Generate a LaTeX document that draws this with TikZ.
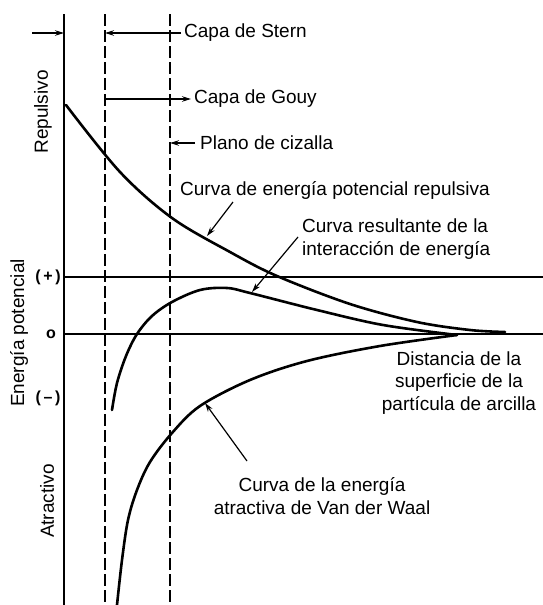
\documentclass[tikz,border=0pt]{standalone}
\usepackage{fontspec}
\setmainfont{Liberation Sans}
\usetikzlibrary{arrows.meta}

\begin{document}
\begin{tikzpicture}[x=1pt,y=-1pt,
  lbl/.style={font=\fontsize{19}{22.5}\selectfont,inner sep=0pt,align=center},
  sgn/.style={font=\fontsize{16}{18}\selectfont\bfseries,inner sep=0pt},
  curve/.style={line width=2.6pt,line cap=round,line join=round},
  axe/.style={line width=1.3pt},
  guide/.style={line width=1.3pt,dash pattern=on 12pt off 4pt},
  pointer/.style={line width=1.2pt,-{Stealth[length=9pt,width=5.5pt]}}]
		\useasboundingbox (0,0) rectangle (543,605);
		%
		\coordinate (axtop) at (64,14);
		\coordinate (axbot) at (64,605);
		\coordinate (gtop) at (105,14);
		\coordinate (gbot) at (105,605);
		\coordinate (ctop) at (170,14);
		\coordinate (cbot) at (170,605);
		\coordinate (plusL) at (64,277);
		\coordinate (plusR) at (543,277);
		\coordinate (zeroL) at (64,334);
		\coordinate (zeroR) at (543,334);
		%
		\draw[axe] (axtop) -- (axbot);
		\draw[guide] (gtop) -- (gbot);
		\draw[guide] (ctop) -- (cbot);
		\draw[axe] (plusL) -- (plusR);
		\draw[axe] (zeroL) -- (zeroR);
		%
		\node[lbl,rotate=90] (epot) at (19,333) {Energía potencial};
		\node[lbl,rotate=90] (repulsivo) at (43,112) {Repulsivo};
		\node[lbl,rotate=90] (atractivo) at (47,501) {Atractivo};
		\node[sgn] (pos) at (48,277) {(\,+\,)};
		\node[sgn] (cero) at (51,334) {o};
		\node[sgn] (neg) at (48,398) {(\,--\,)};
		%
		\node[lbl,anchor=west] (stern) at (184,33) {Capa de Stern};
		\node[lbl,anchor=west] (gouy) at (194,99) {Capa de Gouy};
		\node[lbl,anchor=west] (cizalla) at (200,143) {Plano de cizalla};
		\node[lbl,anchor=west] (crep) at (180,190) {Curva de energía potencial repulsiva};
		\node[lbl,align=left,anchor=west] (cres) at (302,239) {Curva resultante de la\\interacción de energía};
		\node[lbl] (dist) at (459,383) {Distancia de la\\superficie de la\\partícula de arcilla};
		\node[lbl] (catr) at (322,496) {Curva de la energía\\atractiva de Van der Waal};
		%
		% curvas
		\draw[curve] plot[smooth,tension=0.55] coordinates {(66,105) (120,172) (172,218) (230,252) (277,276) (350,304) (417,322) (470,330) (505,332)};
		\draw[curve] plot[smooth,tension=0.55] coordinates {(112,410) (117,383) (126,356) (137,334) (152,316) (172,302) (200,290) (227,288) (250,293) (317,310) (383,325) (457,335)};
		\draw[curve] plot[smooth,tension=0.55] coordinates {(117,605) (122,560) (128,520) (137,490) (150,462) (172,433) (200,406) (250,380) (307,361) (380,346) (457,335)};
		%
		\coordinate (outer) at (32,33);
		\coordinate (axin) at (64,33);
		\coordinate (sternin) at (105,33);
		\coordinate (gouyout) at (105,99);
		\coordinate (cizin) at (170,143);
		\coordinate (reptail) at (233,202);
		\coordinate (reptip) at (207,236);
		\coordinate (restail) at (298,237);
		\coordinate (restip) at (252,292);
		\coordinate (atrtail) at (247,461);
		\coordinate (atrtip) at (205,403);
		%
		\draw[pointer] (outer) -- (axin);
		\draw[pointer] (stern.west) ++(-3,0) -- (sternin);
		\draw[pointer] (gouyout) -- ([xshift=-3pt]gouy.west);
		\draw[pointer] ([xshift=-5pt]cizalla.west) -- (cizin);
		\draw[pointer] (reptail) -- (reptip);
		\draw[pointer] (restail) -- (restip);
		\draw[pointer] (atrtail) -- (atrtip);
\end{tikzpicture}
\end{document}
